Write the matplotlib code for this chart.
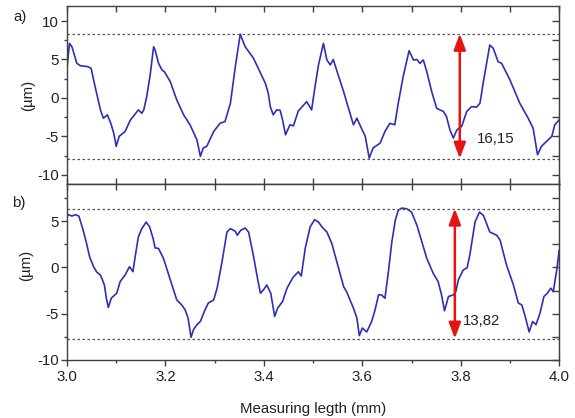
import matplotlib
matplotlib.use("Agg")
import matplotlib.pyplot as plt
from matplotlib.ticker import MultipleLocator

plt.rcParams['font.family'] = ['Liberation Sans', 'DejaVu Sans']

# profile a)
xa = [3.000, 3.005, 3.010, 3.020, 3.027, 3.042, 3.049, 3.057, 3.068, 3.074,
      3.082, 3.089, 3.095, 3.100, 3.106, 3.118, 3.129, 3.145, 3.152, 3.156,
      3.162, 3.169, 3.176, 3.179, 3.186, 3.193, 3.198, 3.210, 3.223, 3.237,
      3.250, 3.264, 3.271, 3.277, 3.284, 3.298, 3.311, 3.321, 3.332, 3.342,
      3.352, 3.362, 3.379, 3.392, 3.403, 3.409, 3.413, 3.419, 3.426, 3.433,
      3.438, 3.444, 3.453, 3.460, 3.470, 3.487, 3.497, 3.504, 3.511, 3.521,
      3.528, 3.535, 3.541, 3.551, 3.562, 3.575, 3.582, 3.589, 3.595, 3.606,
      3.614, 3.622, 3.636, 3.646, 3.656, 3.666, 3.673, 3.683, 3.695, 3.704,
      3.711, 3.717, 3.724, 3.731, 3.741, 3.751, 3.765, 3.771, 3.778, 3.785,
      3.792, 3.802, 3.812, 3.822, 3.832, 3.839, 3.846, 3.859, 3.866, 3.876,
      3.883, 3.900, 3.920, 3.937, 3.947, 3.956, 3.964, 3.974, 3.985, 3.991,
      4.000]
ya = [3.86, 7.10, 6.66, 4.50, 4.20, 4.07, 3.85, 1.50, -1.56, -2.64,
      -2.20, -3.30, -4.58, -6.30, -5.00, -4.37, -2.86, -1.56, -2.00, -1.56,
      0.17, 2.99, 6.66, 6.23, 4.50, 3.64, 3.40, 2.10, -0.26, -2.20,
      -3.50, -5.45, -7.60, -6.50, -6.30, -4.37, -3.30, -3.08, -0.70, 4.07,
      8.30, 6.66, 5.15, 3.40, 1.90, 0.60, -1.13, -2.20, -1.56, -1.60,
      -2.86, -4.80, -3.50, -3.64, -1.70, -0.48, -1.56, 1.50, 4.30, 7.10,
      4.94, 4.30, 5.00, 2.99, 0.82, -2.00, -3.50, -2.64, -3.50, -5.00,
      -7.83, -6.50, -5.90, -4.37, -3.30, -3.50, -0.70, 2.77, 6.14, 4.94,
      5.00, 4.50, 4.94, 3.40, 0.82, -1.34, -1.78, -2.43, -4.16, -5.23,
      -4.16, -3.70, -1.78, -1.13, -1.20, -0.70, 2.10, 6.88, 6.45, 4.70,
      4.50, 2.34, -0.70, -2.64, -3.94, -7.40, -6.30, -5.67, -5.00, -3.50,
      -2.86]

# profile b)
xb = [3.000, 3.003, 3.010, 3.017, 3.024, 3.032, 3.039, 3.046, 3.054, 3.061,
      3.068, 3.076, 3.080, 3.084, 3.090, 3.101, 3.108, 3.118, 3.127, 3.134,
      3.139, 3.145, 3.152, 3.161, 3.168, 3.175, 3.179, 3.186, 3.196, 3.210,
      3.223, 3.233, 3.240, 3.246, 3.252, 3.257, 3.264, 3.271, 3.279, 3.287,
      3.298, 3.305, 3.315, 3.325, 3.332, 3.342, 3.346, 3.353, 3.362, 3.369,
      3.379, 3.387, 3.393, 3.399, 3.406, 3.414, 3.422, 3.428, 3.438, 3.447,
      3.459, 3.470, 3.476, 3.484, 3.494, 3.503, 3.511, 3.518, 3.528, 3.538,
      3.551, 3.562, 3.568, 3.582, 3.589, 3.594, 3.600, 3.609, 3.619, 3.626,
      3.633, 3.639, 3.646, 3.653, 3.660, 3.667, 3.673, 3.680, 3.690, 3.700,
      3.711, 3.721, 3.731, 3.744, 3.754, 3.761, 3.767, 3.775, 3.785, 3.790,
      3.795, 3.805, 3.813, 3.819, 3.829, 3.838, 3.846, 3.859, 3.873, 3.880,
      3.893, 3.907, 3.917, 3.924, 3.930, 3.939, 3.946, 3.953, 3.961, 3.969,
      3.976, 3.983, 3.988, 3.995, 4.000]
yb = [5.43, 5.69, 5.54, 5.69, 5.54, 4.18, 2.75, 1.14, 0.07, -0.54,
      -0.83, -1.90, -3.33, -4.33, -3.33, -2.79, -1.54, -0.83, 0.07, -0.47,
      1.32, 3.28, 4.18, 4.89, 4.36, 3.11, 2.10, 2.04, 0.97, -1.36,
      -3.51, -4.05, -4.58, -5.47, -7.55, -6.73, -6.19, -5.84, -4.76, -3.86,
      -3.51, -2.25, 0.60, 3.82, 4.18, 3.90, 3.47, 4.00, 4.25, 3.80,
      1.20, -1.18, -2.79, -2.44, -1.90, -2.80, -5.30, -4.40, -3.69, -2.25,
      -1.10, -0.47, -0.93, 2.04, 4.36, 5.15, 4.89, 4.36, 3.82, 2.58,
      0.07, -2.08, -2.62, -4.40, -5.47, -7.37, -6.55, -6.97, -5.84, -4.58,
      -2.97, -2.97, -3.33, -0.47, 2.75, 5.08, 6.15, 6.40, 6.33, 5.97,
      4.54, 2.75, 0.97, -0.64, -1.54, -2.97, -4.69, -3.15, -2.97, -2.62,
      -1.36, -0.29, -0.04, 1.50, 4.89, 5.97, 5.61, 3.82, 3.47, 2.93,
      0.25, -1.90, -3.86, -4.05, -5.12, -6.97, -5.84, -6.19, -4.94, -3.15,
      -2.79, -2.25, -2.62, -0.29, 1.86]

# peak-to-valley levels and labels
levels_a = [8.35, -7.90]
levels_b = [6.35, -7.70]
arrow_x = [3.798, 3.788]
pv_labels = ["16,15", "13,82"]

line_col = '#2f2fb4'
spine_col = '#404040'
fs = 10.8

fig = plt.figure(figsize=(5.75, 4.18), dpi=100)
ax1 = fig.add_axes([0.1165, 0.5598, 0.856, 0.4266])
ax2 = fig.add_axes([0.1165, 0.1388, 0.856, 0.4210])


def style(ax, ylim, show_x):
    ax.set_xlim(3.0, 4.0)
    ax.set_ylim(*ylim)
    for s in ax.spines.values():
        s.set_color(spine_col)
        s.set_linewidth(1.0)
    ax.xaxis.set_major_locator(MultipleLocator(0.2))
    ax.xaxis.set_minor_locator(MultipleLocator(0.1))
    ax.yaxis.set_major_locator(MultipleLocator(5))
    ax.yaxis.set_minor_locator(MultipleLocator(2.5))
    ax.tick_params(axis='y', which='major', direction='out', length=4.5,
                   width=1, color=spine_col, labelsize=fs, labelcolor='#222222', pad=1.5)
    ax.tick_params(axis='y', which='minor', direction='out', length=2.5,
                   width=1, color=spine_col)
    ax.yaxis.set_major_formatter(matplotlib.ticker.FuncFormatter(lambda v, p: "%d" % v))
    # right side mirrored ticks pointing in
    r = ax.secondary_yaxis('right')
    r.yaxis.set_major_locator(MultipleLocator(2.5))
    r.tick_params(direction='in', length=5, width=1, color=spine_col, labelright=False)
    r.spines['right'].set_color(spine_col)
    if show_x:
        ax.tick_params(axis='x', which='major', direction='out', length=4.5, width=1,
                       color=spine_col, labelsize=fs, labelcolor='#222222', pad=3)
        ax.tick_params(axis='x', which='minor', direction='out', length=2.5, width=1,
                       color=spine_col)
        t = ax.secondary_xaxis('top')
        t.xaxis.set_major_locator(MultipleLocator(0.1))
        t.tick_params(direction='in', length=4, width=1, color=spine_col, labeltop=False)
        t.spines['top'].set_color(spine_col)
    else:
        ax.tick_params(axis='x', which='both', direction='in', top=True, length=4,
                       width=1, color=spine_col, labelbottom=False)


style(ax1, (-11.2, 12), False)
style(ax2, (-10, 9), True)

ax1.plot(xa, ya, color=line_col, lw=1.2)
ax2.plot(xb, yb, color=line_col, lw=1.2)

for ax, lev, xarr, lab in [(ax1, levels_a, arrow_x[0], pv_labels[0]),
                           (ax2, levels_b, arrow_x[1], pv_labels[1])]:
    for v in lev:
        ax.axhline(v, color='#555555', lw=0.9, ls=(0, (2, 2)))
    ax.annotate('', xy=(xarr, lev[0]), xytext=(xarr, lev[1]),
                arrowprops=dict(arrowstyle='<|-|>,head_length=0.8,head_width=0.3',
                                color='#e41414', lw=1.8, mutation_scale=12,
                                shrinkA=0, shrinkB=0))

ax1.text(3.832, -5.4, pv_labels[0], fontsize=fs, color='#222222', va='center')
ax2.text(3.804, -5.8, pv_labels[1], fontsize=fs, color='#222222', va='center')

fig.text(20 / 575, 1 - 17 / 418, "a)", fontsize=fs, ha='center', va='center', color='#222222')
fig.text(19 / 575, 1 - 203 / 418, "b)", fontsize=fs, ha='center', va='center', color='#222222')
fig.text(28 / 575, 1 - 95 / 418, "(\u00b5m)", fontsize=fs, rotation=90,
         ha='center', va='center', color='#222222')
fig.text(26 / 575, 1 - 265 / 418, "(\u00b5m)", fontsize=fs, rotation=90,
         ha='center', va='center', color='#222222')
fig.text(313 / 575, 1 - 409 / 418, "Measuring legth (mm)", fontsize=fs,
         ha='center', va='center', color='#222222')

fig.savefig("out.png", dpi=100)
